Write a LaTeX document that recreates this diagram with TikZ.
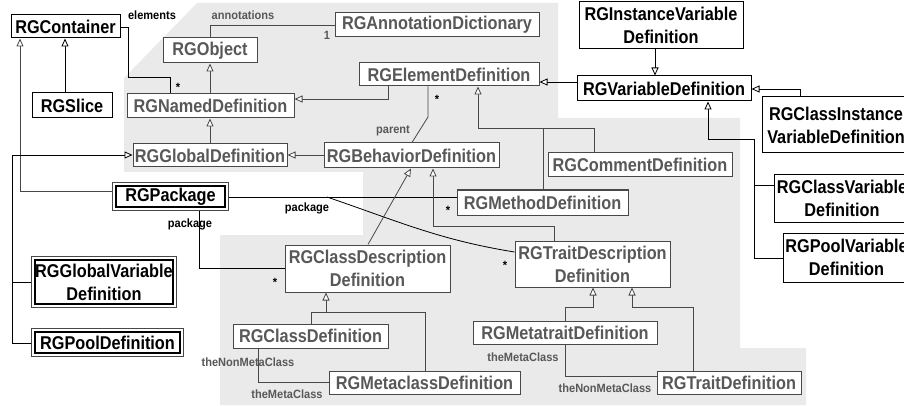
\documentclass[tikz,border=0pt]{standalone}
\usepackage{fontspec}
\setmainfont{Liberation Sans}[FakeStretch=0.88]
\newfontfamily\labfont{Liberation Sans}[FakeStretch=0.92]
\usetikzlibrary{arrows.meta}
\definecolor{bgc}{RGB}{234,234,234}
\definecolor{gtxt}{RGB}{88,88,88}
\definecolor{gline}{RGB}{72,72,72}
\begin{document}
\begin{tikzpicture}[x=1pt,y=-1pt,
 box/.style={draw=black, fill=white, line width=1pt, inner sep=0pt, font=\fontsize{18.5}{23}\selectfont\bfseries, align=center},
 bbox/.style={box, text=black},
 gbox/.style={box, draw=gline, text=gtxt},
 dbox/.style={box, line width=1.1pt},
 outerbox/.style={draw=gline, line width=0.7pt},
 lab/.style={inner sep=0pt, font=\labfont\fontsize{12}{12}\selectfont\bfseries},
 blab/.style={lab, text=black},
 glab/.style={lab, text=gtxt},
 conn/.style={draw=gline, line width=0.8pt},
 bconn/.style={conn, draw=black},
 inh/.style={conn, -{Triangle[open, length=8pt, width=7pt, fill=white]}},
 binh/.style={inh, draw=black}
]
\useasboundingbox (0,0) rectangle (904,406);
\clip (0,0) rectangle (904,406);
\fill[bgc] (124,78) -- (197,3) -- (558,3) -- (558,118) -- (740,118) -- (740,348) -- (806,348) -- (806,405) -- (220,405) -- (220,235) -- (363,235) -- (363,172) -- (124,172) -- cycle;

% nodes
\node[bbox, minimum width=109, minimum height=23] (container) at (65.5,26.5) {RGContainer};
\node[bbox, minimum width=80, minimum height=25] (slice) at (72,105.5) {RGSlice};
\node[gbox, minimum width=94, minimum height=25] (object) at (210,50.5) {RGObject};
\node[gbox, minimum width=204, minimum height=24] (annot) at (437,25) {RGAnnotationDictionary};
\node[gbox, minimum width=167, minimum height=24] (named) at (210.5,106) {RGNamedDefinition};
\node[gbox, minimum width=180, minimum height=23] (element) at (449,74.5) {RGElementDefinition};
\node[gbox, minimum width=154, minimum height=23] (global) at (210,155.5) {RGGlobalDefinition};
\node[gbox, minimum width=175, minimum height=25] (behavior) at (411.5,155.5) {RGBehaviorDefinition};
\node[dbox, minimum width=109, minimum height=21] (package) at (170.5,196.5) {RGPackage};
\draw[outerbox] ([xshift=-3pt,yshift=3pt]package.north west) rectangle ([xshift=3pt,yshift=-3pt]package.south east);
\node[bbox, minimum width=164, minimum height=47] (instvar) at (661,25.5) {RGInstanceVariable\\Definition};
\node[bbox, minimum width=174, minimum height=25] (vardef) at (664,88.5) {RGVariableDefinition};
\node[bbox, minimum width=148, minimum height=56] (civd) at (836,125) {RGClassInstance\\VariableDefinition};
\node[gbox, minimum width=184, minimum height=24] (comment) at (640,165) {RGCommentDefinition};
\node[bbox, minimum width=136, minimum height=47] (classvar) at (842,198.5) {RGClassVariable\\Definition};
\node[bbox, minimum width=127, minimum height=49] (poolvar) at (846.5,257.5) {RGPoolVariable\\Definition};
\node[gbox, minimum width=171, minimum height=25] (method) at (542.5,202.5) {RGMethodDefinition};
\node[gbox, minimum width=165, minimum height=47] (classdesc) at (367.5,268.5) {RGClassDescription\\Definition};
\node[gbox, minimum width=155, minimum height=46] (traitdesc) at (592.5,264) {RGTraitDescription\\Definition};
\node[gbox, minimum width=184, minimum height=23] (metatrait) at (565,332.5) {RGMetatraitDefinition};
\node[gbox, minimum width=144, minimum height=23] (traitdef) at (729,382.5) {RGTraitDefinition};
\node[gbox, minimum width=155, minimum height=24] (classdef) at (310.5,336) {RGClassDefinition};
\node[gbox, minimum width=191, minimum height=23] (metaclass) at (424.5,382.5) {RGMetaclassDefinition};
\node[dbox, minimum width=138, minimum height=44] (globvar) at (104,282) {RGGlobalVariable\\Definition};
\draw[outerbox] ([xshift=-3pt,yshift=3pt]globvar.north west) rectangle ([xshift=3pt,yshift=-3pt]globvar.south east);
\node[dbox, minimum width=145, minimum height=21] (pooldef) at (107.5,342.5) {RGPoolDefinition};
\draw[outerbox] ([xshift=-3pt,yshift=3pt]pooldef.north west) rectangle ([xshift=3pt,yshift=-3pt]pooldef.south east);

% connectors
\draw[binh] (slice.north -| 65,0) -- (container.south -| 65,0);
\draw[inh] ([xshift=-3pt]package.west |- 0,191) -| (container.south -| 20,0);
\draw[bconn] (container.east |- 0,27) -- (128,27) -- (128,77) -| (named.north -| 170,0);
\draw[conn] (object.north -| 210,0) |- (annot.west |- 0,25);
\draw[inh] (named.north -| 210,0) -- (object.south -| 210,0);
\draw[inh] (global.north -| 210,0) -- (named.south -| 210,0);
\draw[inh] (element.south -| 388,0) |- (named.east |- 0,99);
\draw[inh] (behavior.west |- 0,155) -- (global.east |- 0,155);
\draw[conn] (element.south -| 428,0) -- (428,117) -- (behavior.north -| 412,0);
\draw[bconn] ([xshift=3pt]package.east |- 0,197) -- (method.west |- 0,197);
\coordinate (pkbranch) at (327,197);
\draw[bconn] (pkbranch) .. controls (400,222) and (440,240) .. (traitdesc.west |- 0,252);
\draw[bconn] ([yshift=-3pt]package.south -| 199,0) |- (classdesc.west |- 0,268);
\draw[inh] (classdesc.north -| 368,0) -- (behavior.south -| 411,0);
\draw[inh] (traitdesc.north -| 554,0) |- (433,226) -- (behavior.south -| 433,0);
\draw[inh] (method.north -| 543,0) |- (478,128) -- (element.south -| 478,0);
\draw[conn] (comment.north -| 594,0) |- (543,128);
\draw[binh] (vardef.west |- 0,82) -- (element.east |- 0,82);
\draw[binh] (instvar.south -| 655,0) -- (vardef.north -| 655,0);
\draw[binh] (civd.north -| 800,0) |- (vardef.east |- 0,89);
\draw[binh] (poolvar.west |- 0,258) -| (754,139) -| (vardef.south -| 708,0);
\draw[bconn] (classvar.west |- 0,185) -- (754,185);
\draw[inh] (classdef.north -| 311,0) |- (326,312) -- (classdesc.south -| 326,0);
\draw[conn] (metaclass.north -| 425,0) |- (326,312);
\draw[conn] (classdef.south -| 258,0) |- (metaclass.west |- 0,382);
\draw[inh] (metatrait.north -| 565,0) |- (593,307) -- (traitdesc.south -| 593,0);
\draw[inh] (traitdef.north -| 693,0) |- (632,307) -- (traitdesc.south -| 632,0);
\draw[conn] (metatrait.south -| 565,0) |- (traitdef.west |- 0,376);
\draw[binh] ([xshift=-3pt]globvar.west |- 0,282) -| (12,155) -- (global.west |- 0,155);
\draw[bconn] ([xshift=-3pt]pooldef.west |- 0,343) -| (12,282);

% labels
\node[blab] (l1) at (152,15) {elements};
\node[glab] (l2) at (243,15) {annotations};
\node[glab] (l3) at (327,35) {1};
\node[blab] (l4) at (178,87) {*};
\node[blab] (l5) at (437,99) {*};
\node[glab] (l6) at (393,131) {parent};
\node[blab] (l7) at (307,208) {package};
\node[blab] (l8) at (448,210) {*};
\node[blab] (l9) at (190,224) {package};
\node[blab] (l10) at (275,282) {*};
\node[blab] (l11) at (505,265) {*};
\node[glab] (l12) at (248,362) {theNonMetaClass};
\node[glab] (l13) at (287,394) {theMetaClass};
\node[glab] (l14) at (523,357) {theMetaClass};
\node[glab] (l15) at (605,388) {theNonMetaClass};
\end{tikzpicture}
\end{document}
